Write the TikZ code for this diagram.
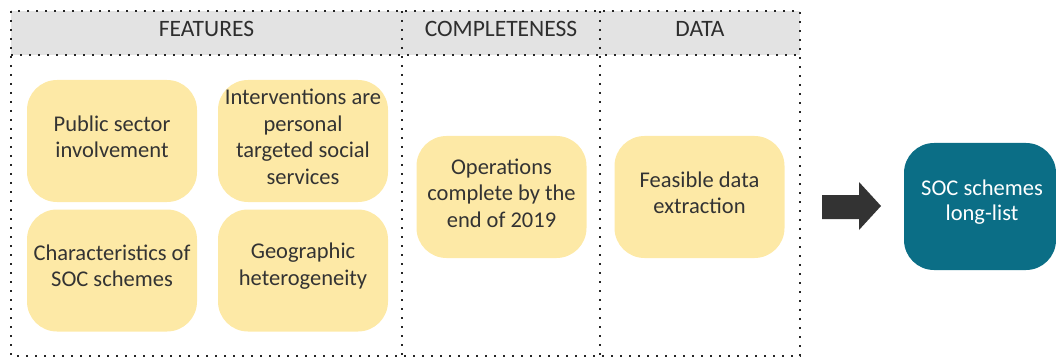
\documentclass[tikz,border=0pt]{standalone}
\usepackage{fontspec}
\setmainfont{Carlito}
\definecolor{hdrgray}{HTML}{E3E3E3}
\definecolor{boxyellow}{HTML}{FDE9A6}
\definecolor{txtgray}{HTML}{333333}
\definecolor{tealbox}{HTML}{0B6E86}
\definecolor{arrowgray}{HTML}{333333}
\begin{document}
\begin{tikzpicture}[x=1pt,y=-1pt,
  dotline/.style={line width=1.6pt, dash pattern=on 1.6pt off 7.4pt, draw=black!85},
  critbox/.style={fill=boxyellow, draw=none, rounded corners=30pt, minimum width=170pt, minimum height=122pt, inner sep=0pt},
  crittext/.style={align=center, text=txtgray, font=\fontsize{22.5}{26.5}\selectfont, inner sep=0pt},
  hdrtext/.style={text=txtgray!90!black, font=\fontsize{23.5}{26}\selectfont, inner sep=0pt},
  resultbox/.style={fill=tealbox, draw=none, rounded corners=30pt, minimum width=152pt, minimum height=127pt, inner sep=0pt},
  resulttext/.style={align=center, text=white, font=\fontsize{22.5}{25}\selectfont, inner sep=0pt}]
\useasboundingbox (0,0) rectangle (1056,358);
% header band
\fill[hdrgray] (11,11) rectangle (800,55);
\draw[dotline] (11,11) rectangle (800,356);
\draw[dotline] (11,55) -- (800,55);
\draw[dotline] (402,11) -- (402,356);
\draw[dotline] (600,11) -- (600,356);
% headers
\node[hdrtext] (hfeat) at (206.5,29) {FEATURES};
\node[hdrtext] (hcomp) at (501,29) {COMPLETENESS};
\node[hdrtext] (hdata) at (700,29) {DATA};
% feature boxes
\node[critbox] (pub) at (112,141) {};
\node[crittext] (pubt) at (112,137) {Public sector\\involvement};
\node[critbox] (int) at (303,141) {};
\node[crittext] (intt) at (303,137) {Interventions are\\personal\\targeted social\\services};
\node[critbox] (cha) at (112,270.5) {};
\node[crittext] (chat) at (112,266) {Characteristics of\\SOC schemes};
\node[critbox] (geo) at (303,270.5) {};
\node[crittext] (geot) at (303,266) {Geographic\\heterogeneity};
% completeness and data
\node[critbox] (ops) at (501.5,197) {};
\node[crittext] (opst) at (501.5,193) {Operations\\complete by the\\end of 2019};
\node[critbox] (fea) at (699.5,197) {};
\node[crittext] (feat) at (699.5,193) {Feasible data\\extraction};
% arrow
\fill[arrowgray] (822,195) -- (859,195) -- (859,182) -- (881,206) -- (859,230) -- (859,219) -- (822,219) -- cycle;
% result
\node[resultbox] (soc) at (980,206.5) {};
\node[resulttext] (soct) at (982,202) {SOC schemes\\long-list};
\end{tikzpicture}
\end{document}
